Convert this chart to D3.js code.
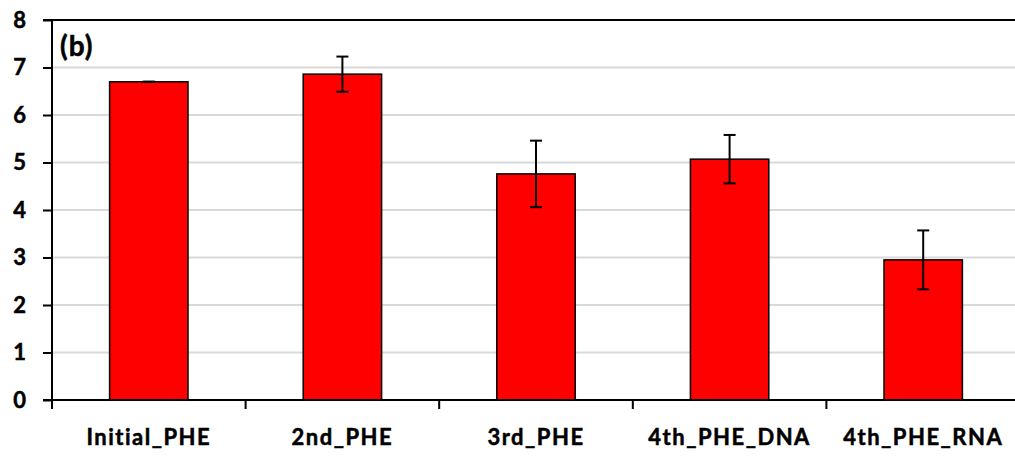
<!DOCTYPE html>
<html>
<head>
<meta charset="utf-8">
<script src="https://cdn.jsdelivr.net/npm/d3@7/dist/d3.min.js"></script>
<style>
  html, body { margin: 0; padding: 0; background: #fff; }
  svg { display: block; }
  text { font-family: Lato, "Open Sans", sans-serif; font-weight: bold; fill: #000; stroke: #000; stroke-width: 0.5px; }
</style>
</head>
<body>
<svg id="chart" width="1015" height="458"></svg>
<script>
// Sample groups and measured means with their error half-widths
const categories = ["Initial_PHE", "2nd_PHE", "3rd_PHE", "4th_PHE_DNA", "4th_PHE_RNA"];
const means = [6.70, 6.86, 4.76, 5.07, 2.95];
const errors = [0.0, 0.37, 0.70, 0.51, 0.62];
const yTicks = [0, 1, 2, 3, 4, 5, 6, 7, 8];
const panelLabel = "(b)";

const svg = d3.select("#chart");
const plotLeft = 52, plotRight = 1020, plotTop = 20, plotBottom = 400;

const x = d3.scaleBand().domain(categories).range([plotLeft, plotRight]).paddingInner(0).paddingOuter(0);
const y = d3.scaleLinear().domain([0, 8]).range([plotBottom, plotTop]);
const barW = x.bandwidth() * 0.405;

// horizontal gridlines
svg.append("g").selectAll("line").data(yTicks.filter(t => t > 0 && t < 8)).join("line")
  .attr("x1", plotLeft).attr("x2", plotRight)
  .attr("y1", d => y(d)).attr("y2", d => y(d))
  .attr("stroke", "#d9d9d9").attr("stroke-width", 2);

// top border of the plot
svg.append("line")
  .attr("x1", plotLeft - 9).attr("x2", plotRight)
  .attr("y1", y(8)).attr("y2", y(8))
  .attr("stroke", "#000").attr("stroke-width", 2);

// bars
svg.append("g").selectAll("rect").data(categories).join("rect")
  .attr("x", d => x(d) + (x.bandwidth() - barW) / 2)
  .attr("width", barW)
  .attr("y", (d, i) => y(means[i]))
  .attr("height", (d, i) => y(0) - y(means[i]))
  .attr("fill", "#ff0000")
  .attr("stroke", "#000").attr("stroke-width", 1.5);

// error bars
const eb = svg.append("g").attr("stroke", "#000").attr("stroke-width", 2);
categories.forEach((c, i) => {
  const cx = x(c) + x.bandwidth() / 2;
  const hi = y(means[i] + errors[i]), lo = y(means[i] - errors[i]);
  eb.append("line").attr("x1", cx).attr("x2", cx).attr("y1", hi).attr("y2", lo);
  eb.append("line").attr("x1", cx - 6).attr("x2", cx + 6).attr("y1", hi).attr("y2", hi);
  eb.append("line").attr("x1", cx - 6).attr("x2", cx + 6).attr("y1", lo).attr("y2", lo);
});

// y axis
const yAxis = svg.append("g").attr("transform", `translate(${plotLeft},0)`)
  .call(d3.axisLeft(y).tickValues(yTicks).tickSize(9).tickPadding(17).tickFormat(d3.format("d")));
yAxis.select(".domain").attr("stroke-width", 2).attr("d", `M0,${plotTop}V${plotBottom}`);
yAxis.selectAll(".tick line").attr("stroke-width", 2);
yAxis.selectAll(".tick text")
  .style("font-size", "22px").style("font-family", "Lato, sans-serif")
  .attr("font-weight", "bold").attr("stroke", "#000").attr("stroke-width", 0.5);

// x axis with ticks at category boundaries
const xAxis = svg.append("g").attr("transform", `translate(0,${plotBottom})`);
xAxis.append("line").attr("x1", plotLeft - 9).attr("x2", plotRight).attr("y1", 0).attr("y2", 0)
  .attr("stroke", "#000").attr("stroke-width", 2);
const bounds = categories.map(c => x(c)).concat([plotRight]);
xAxis.selectAll("line.b").data(bounds).join("line").attr("class", "b")
  .attr("x1", d => d).attr("x2", d => d).attr("y1", 0).attr("y2", 9)
  .attr("stroke", "#000").attr("stroke-width", 2);
xAxis.selectAll("text").data(categories).join("text")
  .attr("x", d => x(d) + x.bandwidth() / 2)
  .attr("y", 45)
  .attr("text-anchor", "middle")
  .style("font-size", "22px")
  .style("letter-spacing", "1.5px")
  .text(d => d);

// panel label
svg.append("text").attr("x", 60).attr("y", 56)
  .style("font-size", "28px").style("letter-spacing", "1px").text(panelLabel);
</script>
</body>
</html>
